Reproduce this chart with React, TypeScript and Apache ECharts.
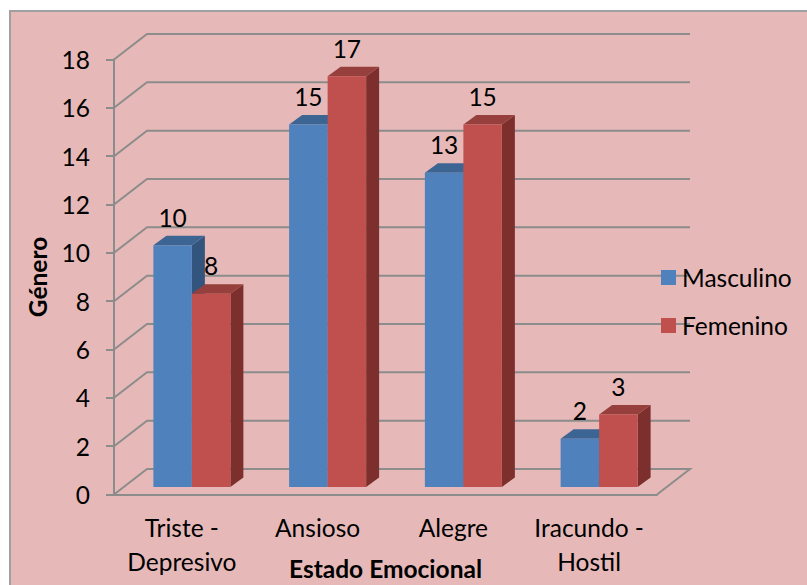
import React, { useEffect, useRef } from "react";
import * as echarts from "echarts";

const categories = ["Triste -\nDepresivo", "Ansioso", "Alegre", "Iracundo -\nHostil"];
const masculino = [10, 15, 13, 2];
const femenino = [8, 17, 15, 3];
const ticks = [0, 2, 4, 6, 8, 10, 12, 14, 16, 18];

const FONT = "Lato";
const SIZE = 24.5;
const GRID = { left: 114, top: 59.5, width: 543, height: 435, outerBoundsMode: "none" };
const DX = 33, DY = 25.5;        // wall depth
const BAR_W = 38.5;
const BASE_X = 10, BASE_Y = -7.5; // bar base offset inside the floor
const D = { x: 13, y: 9.5 };     // bar depth
const LINE = "#8c8c8c";

const palette = {
  Masculino: { front: "#4F81BD", top: "#3D6594", side: "#33557d" },
  Femenino: { front: "#C0504D", top: "#963F3C", side: "#7C2F2D" },
};

function barRender(name: "Masculino" | "Femenino", index: number) {
  const c = palette[name];
  return (params: any, api: any) => {
    const p = api.coord([api.value(0), api.value(1)]);
    const base = api.coord([api.value(0), 0]);
    const x0 = p[0] + BASE_X + (index - 1) * BAR_W;
    const x1 = x0 + BAR_W;
    const yTop = p[1] + BASE_Y;
    const yBot = base[1] + BASE_Y;
    return {
      type: "group",
      children: [
        { type: "polygon", shape: { points: [[x1, yTop], [x1 + D.x, yTop - D.y], [x1 + D.x, yBot - D.y], [x1, yBot]] }, style: { fill: c.side } },
        { type: "polygon", shape: { points: [[x0, yTop], [x0 + D.x, yTop - D.y], [x1 + D.x, yTop - D.y], [x1, yTop]] }, style: { fill: c.top } },
        { type: "rect", shape: { x: x0, y: yTop, width: BAR_W, height: yBot - yTop }, style: { fill: c.front } },
        { type: "text", style: { text: String(api.value(1)), x: (x0 + x1) / 2, y: yTop - 28, align: "center", verticalAlign: "middle", font: `${SIZE}px ${FONT}`, fill: "#000" }, z2: 50 },
      ],
    };
  };
}

function wallRender(params: any, api: any) {
  const t = api.value(1);
  const y = api.coord([0, t])[1];
  const xL = params.coordSys.x;
  const xR = xL + params.coordSys.width;
  const pts = t === 0
    ? [[xL, y], [xL + DX, y - DY], [xR + DX, y - DY], [xR, y]]
    : [[xL, y], [xL + DX, y - DY], [xR + DX, y - DY]];
  return { type: "polyline", shape: { points: pts }, style: { stroke: LINE, lineWidth: 2, fill: "none" } };
}

export default function App() {
  const ref = useRef<HTMLDivElement>(null);
  useEffect(() => {
    const chart = echarts.init(ref.current!, undefined, { renderer: "svg" });
    chart.setOption({
      animation: false,
      backgroundColor: "#ffffff",
      textStyle: { fontFamily: FONT },
      graphic: [{
        type: "rect", z: -10, silent: true,
        shape: { x: 10, y: 11, width: 810, height: 590 },
        style: { fill: "#E6B9B8", stroke: "#a0a0a0", lineWidth: 2 },
      }],
      grid: { ...GRID },
      legend: {
        left: 661, top: 265, padding: 0, orient: "vertical", itemWidth: 15, itemHeight: 15, itemGap: 23,
        data: [
          { name: "Masculino", icon: "rect", itemStyle: { color: palette.Masculino.front } },
          { name: "Femenino", icon: "rect", itemStyle: { color: palette.Femenino.front } },
        ],
        textStyle: { fontFamily: FONT, fontSize: SIZE, color: "#000", padding: [0, 0, 0, 1] },
      },
      xAxis: {
        type: "category", data: categories,
        name: "Estado Emocional", nameLocation: "center", nameGap: 61, nameMoveOverlap: false,
        nameTextStyle: { fontFamily: FONT, fontSize: SIZE, fontWeight: "bold", color: "#000" },
        axisLine: { lineStyle: { color: LINE, width: 2 } },
        axisTick: { show: false },
        axisLabel: { fontFamily: FONT, fontSize: SIZE, color: "#000", lineHeight: 34, margin: 16, interval: 0 },
      },
      yAxis: {
        type: "value", min: 0, max: 18, interval: 2,
        name: "Género", nameLocation: "center", nameGap: 64, nameRotate: 90,
        nameTextStyle: { fontFamily: FONT, fontSize: SIZE, fontWeight: "bold", color: "#000" },
        axisLine: { show: true, lineStyle: { color: LINE, width: 2 } },
        axisTick: { show: true, length: 8, lineStyle: { color: LINE, width: 2 } },
        axisLabel: { fontFamily: FONT, fontSize: SIZE, color: "#000", margin: 24 },
        splitLine: { show: false },
      },
      series: [
        {
          type: "custom", name: "Paredes", silent: true, z: 1,
          data: ticks.map((t) => [0, t]), encode: { x: 0, y: 1 },
          renderItem: wallRender,
        },
        {
          type: "custom", name: "Masculino", z: 2,
          itemStyle: { color: palette.Masculino.front },
          data: masculino.map((v, i) => [i, v]), encode: { x: 0, y: 1 },
          renderItem: barRender("Masculino", 0),
        },
        {
          type: "custom", name: "Femenino", z: 3,
          itemStyle: { color: palette.Femenino.front },
          data: femenino.map((v, i) => [i, v]), encode: { x: 0, y: 1 },
          renderItem: barRender("Femenino", 1),
        },
      ],
    });
    return () => chart.dispose();
  }, []);
  return <div ref={ref} style={{ position: "absolute", left: 0, top: 0, width: 807, height: 585 }} />;
}
